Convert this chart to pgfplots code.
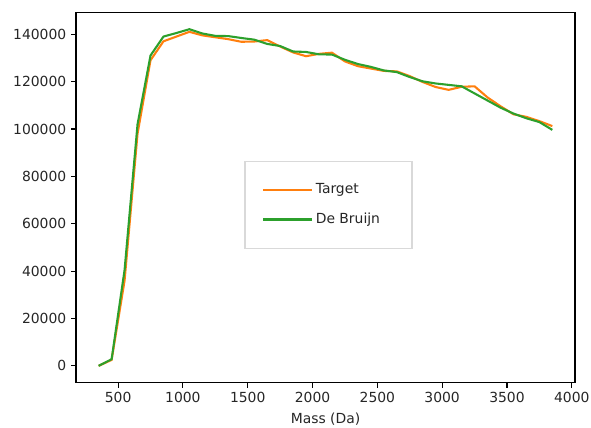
\documentclass[border=0pt]{standalone}
\usepackage{pgfplots}
\pgfplotsset{compat=1.18}
\usepackage{fontspec}
\setmainfont{DejaVu Sans}
\definecolor{mplorange}{HTML}{FF7F0E}
\definecolor{mplgreen}{HTML}{2CA02C}
\begin{document}
\begin{tikzpicture}
\path[use as bounding box] (-54.7pt,-32.6pt) rectangle (370.8pt,275.5pt);
\begin{axis}[
  at={(0pt,0pt)}, anchor=south west,
  scale only axis, width=359.3pt, height=266.4pt,
  xmin=175, xmax=4025, ymin=-7100, ymax=149100,
  xtick={500,1000,...,4000},
  ytick={0,20000,...,140000},
  scaled x ticks=false, scaled y ticks=false,
  /pgf/number format/.cd, fixed, precision=0, 1000 sep={}, assume math mode=true,
  /pgfplots/.cd,
  tick pos=left, tick align=outside,
  major tick length=3.5pt,
  every tick/.style={black, line width=0.8pt},
  axis line style={black, line width=0.8pt},
  ticklabel style={font=\fontsize{10}{12}\selectfont, text=black!85},
  xlabel={Mass (Da)},
  xlabel style={font=\fontsize{10}{12}\selectfont, text=black!85, yshift=-0.6pt},
  legend style={at={(0.506,0.481)}, anchor=center, draw=black!15, line width=0.8pt,
    font=\fontsize{10}{12}\selectfont, text=black!85,
    inner xsep=12.5pt, inner ysep=14pt, row sep=8.6pt},
  legend cell align=left,
  legend image code/.code={\path (0pt,0pt) -- (35pt,0pt);\draw[#1] (0pt,0pt) -- (32pt,0pt);},
]
\addplot[mplorange, line width=1.5pt] coordinates {
(350,0) (450,2500) (550,36000) (650,98000) (750,129000) (850,137000)
(950,139000) (1050,141000) (1150,139500) (1250,138700) (1350,137900)
(1450,136800) (1550,136900) (1650,137500) (1750,134800) (1850,132300)
(1950,130700) (2050,131700) (2150,132200) (2250,128500) (2350,126500)
(2450,125500) (2550,124500) (2650,124300) (2750,122300) (2850,119800)
(2950,117700) (3050,116500) (3150,117800) (3250,118000) (3350,113300)
(3450,109600) (3550,106200) (3650,105100) (3750,103300) (3850,101200)
};
\addlegendentry{Target}
\addplot[mplgreen, line width=1.5pt] coordinates {
(350,0) (450,2800) (550,40500) (650,102000) (750,131000) (850,139000)
(950,140500) (1050,142100) (1150,140300) (1250,139300) (1350,139200)
(1450,138400) (1550,137700) (1650,135900) (1750,135000) (1850,132700)
(1950,132500) (2050,131500) (2150,131400) (2250,129200) (2350,127400)
(2450,126200) (2550,124700) (2650,124000) (2750,121900) (2850,120100)
(2950,119200) (3050,118600) (3150,118000) (3250,115000) (3350,112000)
(3450,109000) (3550,106500) (3650,104500) (3750,102900) (3850,99600)
};
\addlegendentry{De Bruijn\hspace*{8.5pt}}
\end{axis}
\end{tikzpicture}
\end{document}
